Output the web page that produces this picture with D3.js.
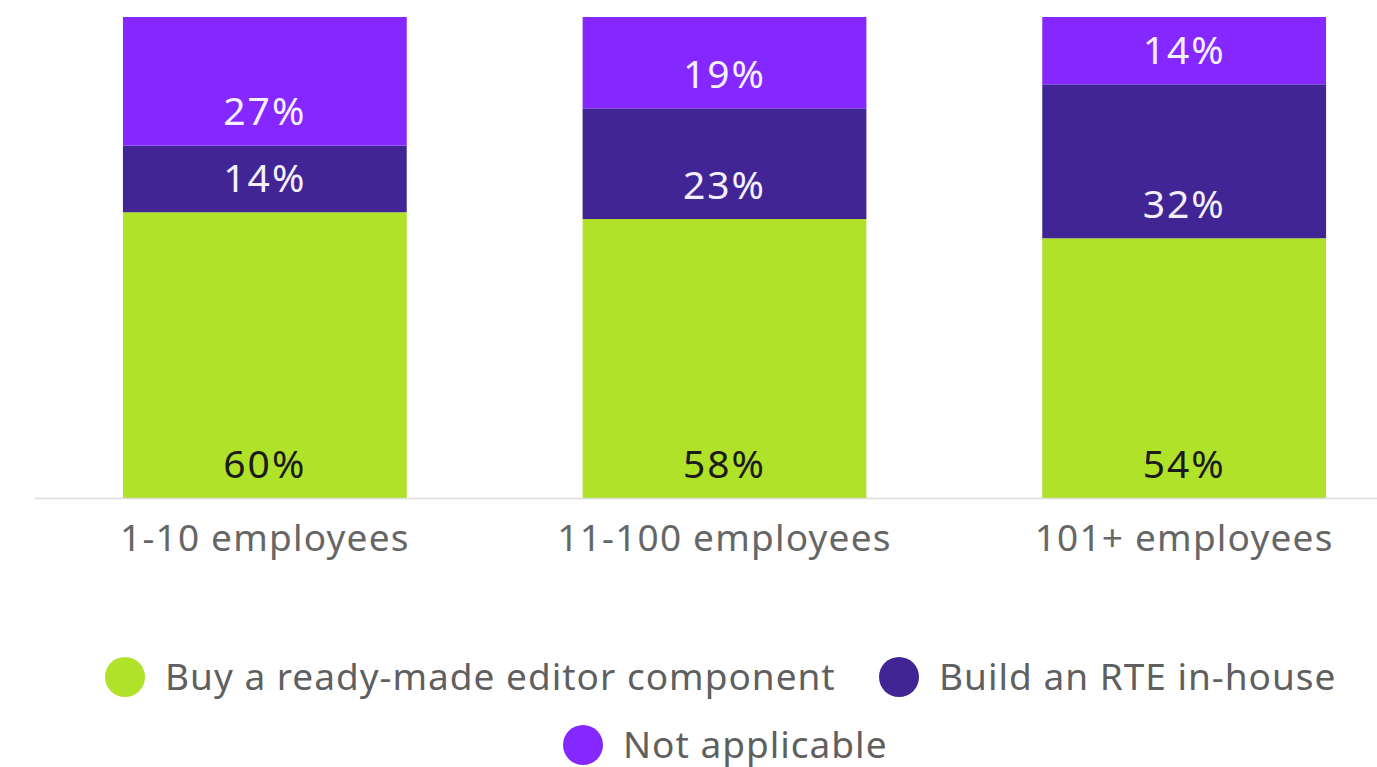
<!DOCTYPE html>
<html>
<head>
<meta charset="utf-8">
<script src="https://cdn.jsdelivr.net/npm/d3@7"></script>
<style>
  html, body { margin: 0; padding: 0; background: #fff; }
  svg { display: block; font-family: "Noto Sans", "Open Sans", sans-serif; }
</style>
</head>
<body>
<svg id="chart" width="1377" height="767"></svg>
<script>
// Company size groups and the share of answers for each choice
const categories = ["1-10 employees", "11-100 employees", "101+ employees"];
const seriesNames = ["Buy a ready-made editor component", "Build an RTE in-house", "Not applicable"];
const buyValues = [60, 58, 54];
const buildValues = [14, 23, 32];
const naValues = [27, 19, 14];

const colors = ["#b0e22a", "#412595", "#8528ff"];
const labelColors = ["#1b1b1b", "#f4f0ff", "#f4f0ff"];

const rows = categories.map((c, i) => ({
  category: c,
  s0: buyValues[i],
  s1: buildValues[i],
  s2: naValues[i]
}));

const svg = d3.select("#chart");
const baseY = 498, topY = 17;

const x = d3.scaleBand()
  .domain(categories)
  .range([35.6, 1413.4])
  .paddingInner(0.3826)
  .paddingOuter(0.19);

const y = d3.scaleLinear().domain([0, 1]).range([baseY, topY]);

// Each bar fills the full height: shares are normalised per group
const stack = d3.stack().keys(["s0", "s1", "s2"]).offset(d3.stackOffsetExpand);
const layers = stack(rows);

const g = svg.append("g");
layers.forEach((layer, li) => {
  const lg = g.append("g");
  lg.selectAll("rect")
    .data(layer)
    .join("rect")
    .attr("x", d => x(d.data.category))
    .attr("width", x.bandwidth())
    .attr("y", d => y(d[1]))
    .attr("height", d => y(d[0]) - y(d[1]))
    .attr("fill", colors[li]);

  // Value labels sit near the bottom of each segment
  lg.selectAll("text")
    .data(layer)
    .join("text")
    .attr("x", d => x(d.data.category) + x.bandwidth() / 2)
    .attr("y", d => y(d[0]) - 36)
    .attr("text-anchor", "middle")
    .attr("dominant-baseline", "central")
    .attr("font-size", 39)
    .attr("letter-spacing", 2)
    .attr("fill", labelColors[li])
    .text(d => d.data["s" + li] + "%");
});

// Baseline
svg.append("line")
  .attr("x1", 35).attr("x2", 1377)
  .attr("y1", baseY + 0.5).attr("y2", baseY + 0.5)
  .attr("stroke", "#dcdcdc").attr("stroke-width", 1.5);

// Category axis
const xAxis = d3.axisBottom(x).tickSize(0).tickPadding(0);
const ax = svg.append("g").attr("transform", `translate(0,${baseY})`).call(xAxis);
ax.select(".domain").remove();
ax.selectAll("text")
  .attr("y", 38)
  .attr("dy", null)
  .attr("dominant-baseline", "central")
  .attr("font-size", 37)
  .attr("letter-spacing", 1.2)
  .attr("font-family", "'Noto Sans', sans-serif")
  .attr("fill", "#666");

// Legend
const legendItems = [
  { i: 0, cx: 125, cy: 677 },
  { i: 1, cx: 899, cy: 677 },
  { i: 2, cx: 583, cy: 745 }
];
const lg = svg.append("g");
legendItems.forEach(item => {
  lg.append("circle")
    .attr("cx", item.cx).attr("cy", item.cy).attr("r", 20)
    .attr("fill", colors[item.i]);
  lg.append("text")
    .attr("x", item.cx + 40).attr("y", item.cy - 2)
    .attr("dominant-baseline", "central")
    .attr("font-size", 37)
    .attr("letter-spacing", 1)
    .attr("fill", "#5f5f5f")
    .text(seriesNames[item.i]);
});
</script>
</body>
</html>
